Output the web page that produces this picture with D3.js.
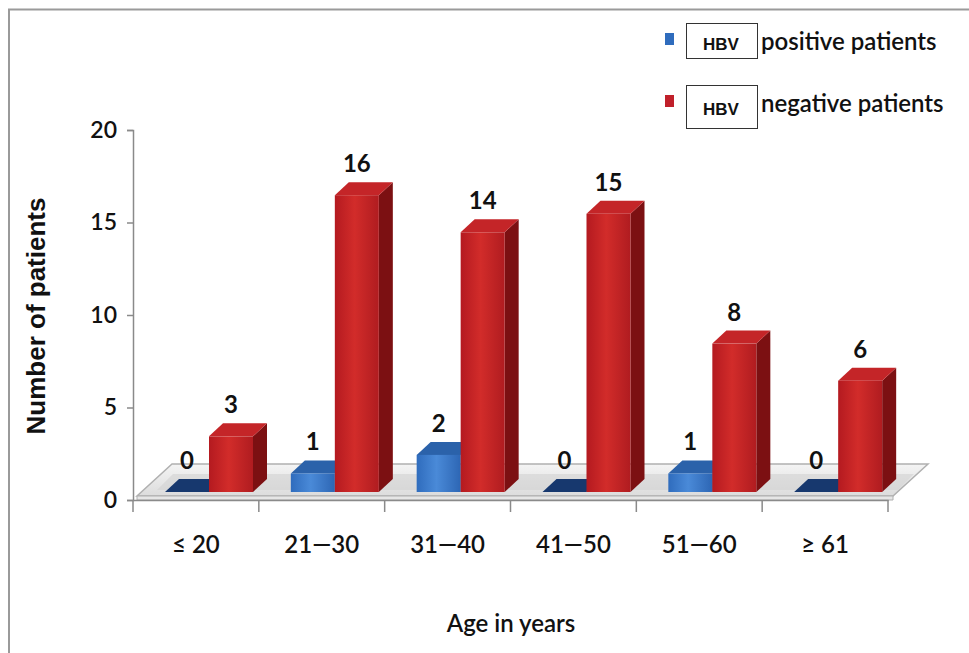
<!DOCTYPE html>
<html><head><meta charset="utf-8">
<script src="https://cdn.jsdelivr.net/npm/d3@7"></script>
<style>html,body{margin:0;padding:0;background:#fff}svg{display:block}</style>
</head><body>
<svg id="c" width="969" height="653"></svg>
<script>
const categories = ["≤ 20", "21—30", "31—40", "41—50", "51—60", "≥ 61"];
const seriesNames = ["positive patients", "negative patients"];
const positive = [0, 1, 2, 0, 1, 0];
const negative = [3, 16, 14, 15, 8, 6];
const yTicks = [0, 5, 10, 15, 20];

const svg = d3.select("#c");
const font = "Lato, 'Open Sans', sans-serif";

// frame
svg.append("line").attr("x1", 8).attr("x2", 969).attr("y1", 9.5).attr("y2", 9.5).attr("stroke", "#9a9a9a").attr("stroke-width", 2);
svg.append("line").attr("x1", 9).attr("x2", 9).attr("y1", 9).attr("y2", 653).attr("stroke", "#9a9a9a").attr("stroke-width", 2);

const defs = svg.append("defs");
function hgrad(id, stops) {
  const g = defs.append("linearGradient").attr("id", id).attr("x1", "0").attr("x2", "1").attr("y1", "0").attr("y2", "0");
  stops.forEach(s => g.append("stop").attr("offset", s[0]).attr("stop-color", s[1]));
}
hgrad("redFront", [[0, "#b41a20"], [0.45, "#d22c2a"], [1, "#b01c20"]]);
hgrad("blueFront", [[0, "#2f6cbd"], [0.45, "#4a8ad8"], [1, "#2d66b4"]]);
const fg = defs.append("linearGradient").attr("id", "floorG").attr("x1", "0").attr("x2", "0").attr("y1", "0").attr("y2", "1");
fg.append("stop").attr("offset", 0).attr("stop-color", "#f4f4f4");
fg.append("stop").attr("offset", 1).attr("stop-color", "#dcdcdc");

const x0 = 133, x1 = 888;
const x = d3.scaleBand().domain(categories).range([x0, x1]);
const xs = d3.scaleBand().domain(seriesNames).range([32, 120]);
const yAxisScale = d3.scaleLinear().domain([0, 20]).range([500, 130]);
const yBar = d3.scaleLinear().domain([0, 20]).range([492, 121]);
const dx = 14, dy = -13;

// floor
const fdx = 35, fdy = -32, fy = 496;
svg.append("polygon")
  .attr("points", [[x0 + 4, fy], [x1 + 5, fy], [x1 + 5 + fdx, fy + fdy], [x0 + 4 + fdx, fy + fdy]].map(p => p.join(",")).join(" "))
  .attr("fill", "url(#floorG)").attr("stroke", "#b0b0b0").attr("stroke-width", 1.5);
svg.append("polygon")
  .attr("points", [[x0 + 4, fy], [x1 + 5, fy], [x1 + 5, fy + 4], [x0 + 4, fy + 4]].map(p => p.join(",")).join(" "))
  .attr("fill", "#e6e6e6").attr("stroke", "#b0b0b0").attr("stroke-width", 1);
svg.append("polygon")
  .attr("points", [[x0 + 24, fy - 6], [x1 + 10, fy - 6], [x1 + 26, fy - 22], [x0 + 40, fy - 22]].map(p => p.join(",")).join(" "))
  .attr("fill", "#d2d2d2").attr("opacity", 0.6);

// axes
const yAxis = d3.axisLeft(yAxisScale).tickValues(yTicks).tickSize(6).tickPadding(10);
const gy = svg.append("g").attr("transform", `translate(${x0},0)`).call(yAxis);
gy.select(".domain").attr("stroke", "#8a8a8a").attr("stroke-width", 1.5);
gy.selectAll(".tick line").attr("stroke", "#8a8a8a").attr("stroke-width", 1.5);
gy.selectAll(".tick text").attr("font-family", font).attr("font-size", 23).attr("font-weight", 600).attr("fill", "#111");

const xAxis = d3.axisBottom(x).tickSize(0).tickPadding(36);
const gx = svg.append("g").attr("transform", `translate(0,500)`).call(xAxis);
gx.select(".domain").attr("stroke", "#8a8a8a").attr("stroke-width", 1.5);
gx.selectAll(".tick text").attr("font-family", font).attr("font-size", 24).attr("font-weight", 600).attr("fill", "#111");
const bounds = categories.map(c => x(c)).concat([x1]);
svg.append("g").selectAll("line").data(bounds).join("line")
  .attr("x1", d => d).attr("x2", d => d).attr("y1", 500).attr("y2", 512)
  .attr("stroke", "#8a8a8a").attr("stroke-width", 1.5);

// bars
const bars = [];
categories.forEach((c, i) => {
  bars.push({ c, s: seriesNames[0], v: positive[i], kind: "blue" });
  bars.push({ c, s: seriesNames[1], v: negative[i], kind: "red" });
});
const colors = {
  blue: { front: "url(#blueFront)", top: "#2b62aa", side: "#1d4a88", zero: "#17386e" },
  red: { front: "url(#redFront)", top: "#c42528", side: "#7c1012", zero: "#7c1012" }
};
const gb = svg.append("g");
bars.forEach(b => {
  const bx = x(b.c) + xs(b.s), bw = xs.bandwidth();
  const yb = yBar(0), yt = yBar(b.v);
  const col = colors[b.kind];
  const pts = a => a.map(p => p.join(",")).join(" ");
  if (b.v === 0) {
    gb.append("polygon").attr("points", pts([[bx, yb], [bx + bw, yb], [bx + bw + dx, yb + dy], [bx + dx, yb + dy]]))
      .attr("fill", col.zero);
  } else {
    gb.append("polygon").attr("points", pts([[bx + bw, yb], [bx + bw + dx, yb + dy], [bx + bw + dx, yt + dy], [bx + bw, yt]]))
      .attr("fill", col.side);
    gb.append("polygon").attr("points", pts([[bx, yt], [bx + bw, yt], [bx + bw + dx, yt + dy], [bx + dx, yt + dy]]))
      .attr("fill", col.top);
    gb.append("rect").attr("x", bx).attr("y", yt).attr("width", bw).attr("height", yb - yt).attr("fill", col.front);
  }
  gb.append("text").attr("x", bx + bw / 2).attr("y", yt + dy - 10)
    .attr("text-anchor", "middle").attr("font-family", font).attr("font-size", 24).attr("font-weight", 700)
    .attr("fill", "#111").text(b.v);
});

// axis titles
svg.append("text").attr("transform", "translate(45,316) rotate(-90)").attr("text-anchor", "middle")
  .attr("font-family", "'Liberation Sans', Arial, sans-serif").attr("font-weight", 700).attr("font-size", 26)
  .attr("fill", "#111").text("Number of patients");
svg.append("text").attr("x", 511).attr("y", 632).attr("text-anchor", "middle")
  .attr("font-family", font).attr("font-weight", 600).attr("font-size", 24).attr("fill", "#111").text("Age in years");

// legend
const leg = svg.append("g");
const legY = [44, 106];
seriesNames.forEach((s, i) => {
  const cy = legY[i];
  const sq = i === 0 ? "#2f6cbd" : "#c0202a";
  leg.append("rect").attr("x", 665).attr("y", cy - 11).attr("width", 9).attr("height", 12).attr("fill", sq);
  leg.append("rect").attr("x", 686.5).attr("y", cy - 20.5).attr("width", 71).attr("height", i === 0 ? 35 : 43)
    .attr("fill", "#fff").attr("stroke", "#333").attr("stroke-width", 1);
  leg.append("text").attr("x", 721).attr("y", cy + (i === 0 ? 6 : 9)).attr("text-anchor", "middle")
    .attr("font-family", "'Liberation Sans', Arial, sans-serif").attr("font-weight", 700).attr("font-size", 17)
    .attr("fill", "#111").text("HBV");
  leg.append("text").attr("x", 761).attr("y", cy + 6).attr("font-family", font).attr("font-weight", 600)
    .attr("font-size", 24).attr("fill", "#111").text(s);
});
</script>
</body></html>
